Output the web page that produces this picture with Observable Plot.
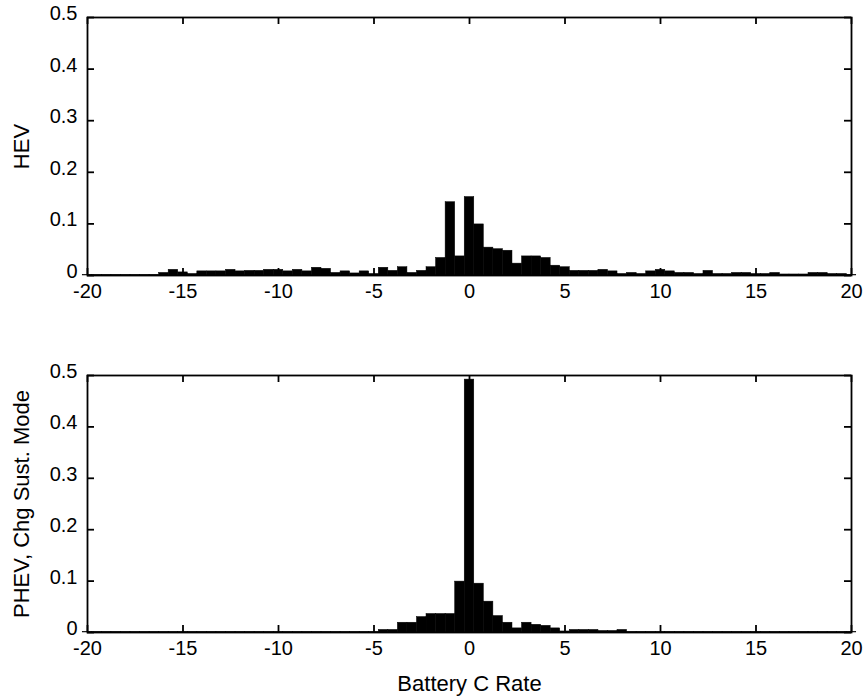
<!DOCTYPE html>
<html>
<head>
<meta charset="utf-8">
<script src="https://cdn.jsdelivr.net/npm/d3@7"></script>
<script src="https://cdn.jsdelivr.net/npm/@observablehq/plot@0.6"></script>
<style>
  body { margin: 0; background: #fff; }
  #chart { width: 863px; height: 696px; overflow: hidden; }
  #chart svg { display: block; }
  #chart svg g[aria-label="x-axis label"] text,
  #chart svg g[aria-label="y-axis label"] text { font-size: 22px; }
</style>
</head>
<body>
<div id="chart"></div>
<script>
// Histogram bin centres (bin width 0.5)
const binCenters = [
  -20, -19.5, -19, -18.5, -18, -17.5, -17, -16.5, -16, -15.5,
  -15, -14.5, -14, -13.5, -13, -12.5, -12, -11.5, -11, -10.5,
  -10, -9.5, -9, -8.5, -8, -7.5, -7, -6.5, -6, -5.5,
  -5, -4.5, -4, -3.5, -3, -2.5, -2, -1.5, -1, -0.5,
  0, 0.5, 1, 1.5, 2, 2.5, 3, 3.5, 4, 4.5,
  5, 5.5, 6, 6.5, 7, 7.5, 8, 8.5, 9, 9.5,
  10, 10.5, 11, 11.5, 12, 12.5, 13, 13.5, 14, 14.5,
  15, 15.5, 16, 16.5, 17, 17.5, 18, 18.5, 19, 19.5,
  20
];
const binWidth = 0.5;

// Top panel: HEV
const hevValues = [
  0.001, 0.001, 0.001, 0.001, 0.001, 0.001, 0.001, 0.001, 0.005, 0.011,
  0.006, 0.003, 0.008, 0.008, 0.008, 0.011, 0.008, 0.009, 0.009, 0.011,
  0.011, 0.008, 0.011, 0.008, 0.015, 0.013, 0.005, 0.008, 0.004, 0.008,
  0.003, 0.015, 0.009, 0.016, 0.005, 0.009, 0.016, 0.034, 0.142, 0.037,
  0.152, 0.099, 0.054, 0.051, 0.048, 0.023, 0.037, 0.037, 0.034, 0.019,
  0.016, 0.009, 0.009, 0.009, 0.011, 0.008, 0.003, 0.005, 0.003, 0.008,
  0.011, 0.008, 0.005, 0.005, 0.003, 0.009, 0.003, 0.003, 0.005, 0.005,
  0.003, 0.003, 0.005, 0.002, 0.002, 0.002, 0.005, 0.005, 0.003, 0.003,
  0.001
];

// Bottom panel: PHEV, charge sustaining mode
const phevValues = [
  0.001, 0.001, 0.001, 0.001, 0.001, 0.001, 0.001, 0.001, 0.001, 0.001,
  0.001, 0.001, 0.001, 0.001, 0.001, 0.001, 0.001, 0.001, 0.001, 0.001,
  0.001, 0.001, 0.001, 0.001, 0.001, 0.001, 0.001, 0.001, 0.001, 0.001,
  0.001, 0.005, 0.005, 0.019, 0.019, 0.030, 0.036, 0.036, 0.036, 0.099,
  0.492, 0.095, 0.060, 0.032, 0.019, 0.008, 0.019, 0.015, 0.013, 0.008,
  0.002, 0.005, 0.005, 0.005, 0.003, 0.003, 0.005, 0.001, 0.001, 0.001,
  0.001, 0.001, 0.001, 0.001, 0.001, 0.001, 0.001, 0.001, 0.001, 0.001,
  0.001, 0.001, 0.001, 0.001, 0.001, 0.001, 0.001, 0.001, 0.001, 0.001,
  0.001
];

const xTicks = [-20, -15, -10, -5, 0, 5, 10, 15, 20];
const yTicks = [0, 0.1, 0.2, 0.3, 0.4, 0.5];
const xTickLabels = ["-20", "-15", "-10", "-5", "0", "5", "10", "15", "20"];
const yTickLabels = ["0", "0.1", "0.2", "0.3", "0.4", "0.5"];
const panelLabels = ["HEV", "PHEV, Chg Sust. Mode"];
const xLabel = "Battery C Rate";

const W = 863, ML = 87, MR = 12;
const FONT = "'Liberation Sans', Arial, Helvetica, sans-serif";

function panel(values, yLabel, cfg) {
  const rows = binCenters.map((c, i) => ({c, v: values[i]}));
  const innerH = cfg.height - cfg.mt - cfg.mb;
  const innerW = W - ML - MR;
  const tl = 7;
  return Plot.plot({
    width: W,
    height: cfg.height,
    marginLeft: ML,
    marginRight: MR,
    marginTop: cfg.mt,
    marginBottom: cfg.mb,
    x: {domain: [-20, 20]},
    y: {domain: [0, 0.5]},
    style: {fontFamily: FONT, fontSize: "20px", color: "#000", background: "#fff", overflow: "visible"},
    marks: [
      Plot.rectY(rows, {x1: d => d.c - binWidth / 2, x2: d => d.c + binWidth / 2, y: "v", fill: "#000", stroke: "#000", strokeWidth: 0.5}),
      Plot.frame({stroke: "#000", strokeWidth: 1.8}),
      Plot.tickX(xTicks, {x: d => d, insetTop: innerH - tl, stroke: "#000", strokeWidth: 1.8}),
      Plot.tickX(xTicks, {x: d => d, insetBottom: innerH - tl, stroke: "#000", strokeWidth: 1.8}),
      Plot.tickY(yTicks, {y: d => d, insetRight: innerW - tl, stroke: "#000", strokeWidth: 1.8}),
      Plot.tickY(yTicks, {y: d => d, insetLeft: innerW - tl, stroke: "#000", strokeWidth: 1.8}),
      Plot.axisX(xTicks, {
        tickSize: 0, tickPadding: 8,
        tickFormat: d => xTickLabels[xTicks.indexOf(d)],
        label: cfg.xLabel ?? null, labelAnchor: "center", labelArrow: "none", labelOffset: 58
      }),
      Plot.axisY(yTicks, {
        tickSize: 0, tickPadding: 10, dy: -4,
        tickFormat: d => yTickLabels[yTicks.indexOf(d)],
        label: yLabel, labelAnchor: "center", labelArrow: "none", labelOffset: 74
      })
    ]
  });
}

const chart = document.getElementById("chart");
chart.appendChild(panel(hevValues, panelLabels[0], {height: 330, mt: 17, mb: 55}));
chart.appendChild(panel(phevValues, panelLabels[1], {height: 366, mt: 45, mb: 64, xLabel}));
</script>
</body>
</html>
